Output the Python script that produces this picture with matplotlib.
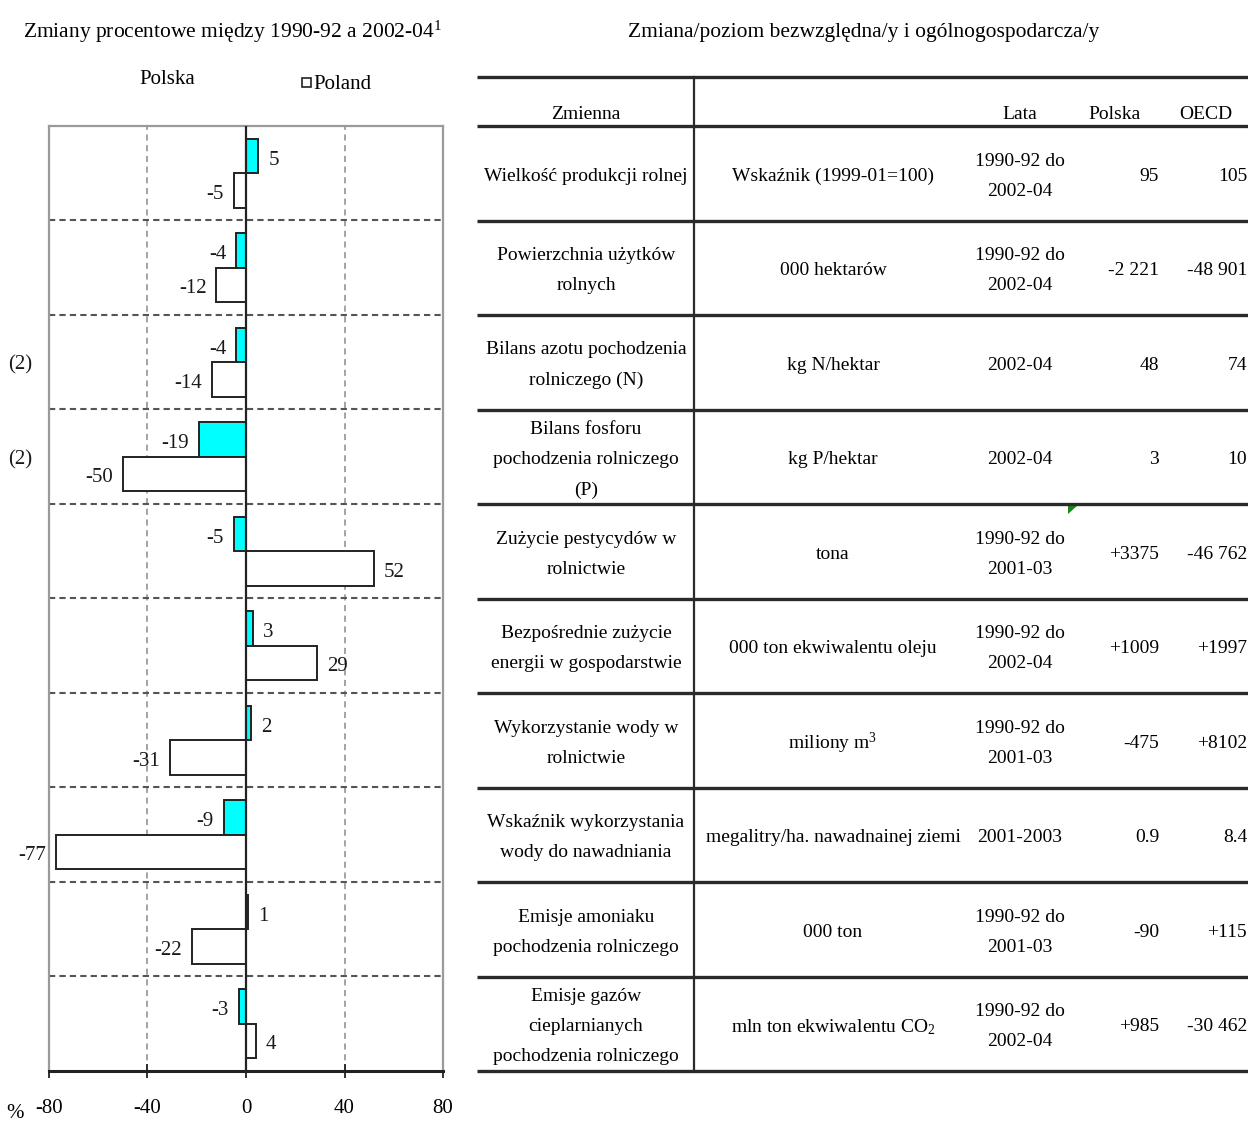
import matplotlib
matplotlib.use('Agg')
import matplotlib.pyplot as plt
from matplotlib import transforms
from matplotlib.patches import Rectangle, Polygon

plt.rcParams['font.family'] = ['Liberation Serif', 'DejaVu Serif']
plt.rcParams['mathtext.fontset'] = 'custom'
plt.rcParams['mathtext.rm'] = 'Liberation Serif'
plt.rcParams['mathtext.it'] = 'Liberation Serif:italic'
plt.rcParams['mathtext.bf'] = 'Liberation Serif:bold'

# ---------------- data ----------------
oecd_vals = [5, -4, -4, -19, -5, 3, 2, -9, 1, -3]          # cyan bars (top of each pair)
poland_vals = [-5, -12, -14, -50, 52, 29, -31, -77, -22, 4]  # white bars (bottom of each pair)
note_rows = [2, 3]                                           # rows marked "(2)"
x_ticks = [-80, -40, 0, 40, 80]

zmienna = [
    "Wielkość produkcji rolnej",
    "Powierzchnia użytków\nrolnych",
    "Bilans azotu pochodzenia\nrolniczego (N)",
    "Bilans fosforu\npochodzenia rolniczego\n(P)",
    "Zużycie pestycydów w\nrolnictwie",
    "Bezpośrednie zużycie\nenergii w gospodarstwie",
    "Wykorzystanie wody w\nrolnictwie",
    "Wskaźnik wykorzystania\nwody do nawadniania",
    "Emisje amoniaku\npochodzenia rolniczego",
    "Emisje gazów\ncieplarnianych\npochodzenia rolniczego",
]
jednostka = [
    "Wskaźnik (1999-01=100)",
    "000 hektarów",
    "kg N/hektar",
    "kg P/hektar",
    "tona",
    "000 ton ekwiwalentu oleju",
    "miliony m$^3$",
    "megalitry/ha. nawadnainej ziemi",
    "000 ton",
    "mln ton ekwiwalentu CO$_2$",
]
lata = [
    "1990-92 do\n2002-04",
    "1990-92 do\n2002-04",
    "2002-04",
    "2002-04",
    "1990-92 do\n2001-03",
    "1990-92 do\n2002-04",
    "1990-92 do\n2001-03",
    "2001-2003",
    "1990-92 do\n2001-03",
    "1990-92 do\n2002-04",
]
polska_abs = ["95", "-2 221", "48", "3", "+3375", "+1009", "-475", "0.9", "-90", "+985"]
oecd_abs = ["105", "-48 901", "74", "10", "-46 762", "+1997", "+8102", "8.4", "+115", "-30 462"]

W, H = 1248, 1122
fig = plt.figure(figsize=(W / 100, H / 100), dpi=100, facecolor='white')

# overlay axes in pixel coordinates for the table and free text
ov = fig.add_axes([0, 0, 1, 1])
ov.set_xlim(0, W)
ov.set_ylim(H, 0)
ov.axis('off')
ov.patch.set_visible(False)

# ---------------- bar chart ----------------
ax_l, ax_r, ax_t, ax_b = 49, 443, 126, 1071
ax = fig.add_axes([ax_l / W, 1 - ax_b / H, (ax_r - ax_l) / W, (ax_b - ax_t) / H])
n = len(oecd_vals)
ys = list(range(n))
bh = 0.365
ax.barh([y - bh / 2 for y in ys], oecd_vals, height=bh, color='#00FFFF',
        edgecolor='#222222', linewidth=1.4, zorder=3)
ax.barh([y + bh / 2 for y in ys], poland_vals, height=bh, color='white',
        edgecolor='#222222', linewidth=1.4, zorder=3)

for y, v in zip(ys, oecd_vals):
    ax.annotate(str(v), (v, y - bh / 2), xytext=(10 if v >= 0 else -10, -4),
                textcoords='offset pixels', ha='left' if v >= 0 else 'right',
                va='center', fontsize=15, color='#1a1a1a', zorder=5)
for y, v in zip(ys, poland_vals):
    ax.annotate(str(v), (v, y + bh / 2), xytext=(10 if v >= 0 else -10, -4),
                textcoords='offset pixels', ha='left' if v >= 0 else 'right',
                va='center', fontsize=15, color='#1a1a1a', zorder=5)

ax.set_xlim(-80, 80)
ax.set_ylim(n - 0.5, -0.5)
ax.set_yticks([])
ax.set_xticks(x_ticks)
ax.set_xticklabels([str(t) for t in x_ticks], fontsize=15)
ax.tick_params(axis='x', direction='inout', length=10, width=1.3, color='#222222', pad=15)
for xv in (-40, 40):
    ax.axvline(xv, color='#8a8a8a', linestyle=(0, (4, 3)), linewidth=1.1, zorder=1)
for i in range(n - 1):
    ax.axhline(i + 0.5, color='#555555', linestyle=(0, (3, 2)), linewidth=1.5, zorder=1)
ax.axvline(0, color='#222222', linewidth=1.6, zorder=4)
for s in ('left', 'right', 'top'):
    ax.spines[s].set_color('#9a9a9a')
    ax.spines[s].set_linewidth(1.6)
ax.spines['bottom'].set_color('#222222')
ax.spines['bottom'].set_linewidth(2.2)

# "(2)" notes at left of selected rows
bt = transforms.blended_transform_factory(fig.transFigure, ax.transData)
for r in note_rows:
    ax.annotate("(2)", (20 / W, r), xycoords=bt, xytext=(0, -3), textcoords='offset pixels',
                ha='center', va='center', fontsize=15, color='#1a1a1a', annotation_clip=False)

# titles and legend
ov.text(233, 32, "Zmiany procentowe między 1990-92 a 2002-04$^{1}$", ha='center',
        va='center', fontsize=15.5)
ov.text(864, 32, "Zmiana/poziom bezwzględna/y i ogólnogospodarcza/y", ha='center',
        va='center', fontsize=15.5)
ov.text(167, 79, "Polska", ha='center', va='center', fontsize=15)
ov.add_patch(Rectangle((302, 78), 9, 9, facecolor='white', edgecolor='#222222', linewidth=1.2))
ov.text(313, 84, "Poland", ha='left', va='center', fontsize=15)
ov.text(15, 1114, "%", ha='center', va='center', fontsize=15)

# ---------------- table ----------------
tx0, tx1, tdiv = 477, W + 5, 694
row_top = ax_t
row_h = (ax_b - ax_t) / n
lc = '#2a2a2a'
ov.plot([tx0, tx1], [77, 77], color=lc, linewidth=2.4, solid_capstyle='butt')
for i in range(n + 1):
    yy = row_top + i * row_h
    ov.plot([tx0, tx1], [yy, yy], color=lc, linewidth=2.4, solid_capstyle='butt')
ov.plot([tdiv, tdiv], [77, ax_b], color=lc, linewidth=1.6)

fs = 14
ls = 2.0
dy = 3
ov.text(586, 114, "Zmienna", ha='center', va='center', fontsize=fs)
ov.text(1020, 114, "Lata", ha='center', va='center', fontsize=fs)
ov.text(1115, 114, "Polska", ha='center', va='center', fontsize=fs)
ov.text(1206, 114, "OECD", ha='center', va='center', fontsize=fs)
for i in range(n):
    yc = row_top + (i + 0.5) * row_h + dy
    ov.text(586, yc, zmienna[i], ha='center', va='center', fontsize=fs, linespacing=ls,
            multialignment='center')
    ov.text(833, yc, jednostka[i], ha='center', va='center', fontsize=fs)
    ov.text(1020, yc, lata[i], ha='center', va='center', fontsize=fs, linespacing=ls,
            multialignment='center')
    ov.text(1159, yc, polska_abs[i], ha='right', va='center', fontsize=fs)
    ov.text(1247, yc, oecd_abs[i], ha='right', va='center', fontsize=fs)

# small green mark in the table (as in source)
ov.add_patch(Polygon([[1068, 506], [1077, 506], [1068, 514]], closed=True,
                     facecolor='#1a8a1a', edgecolor='none'))

fig.savefig('out.png', dpi=100, facecolor='white')
